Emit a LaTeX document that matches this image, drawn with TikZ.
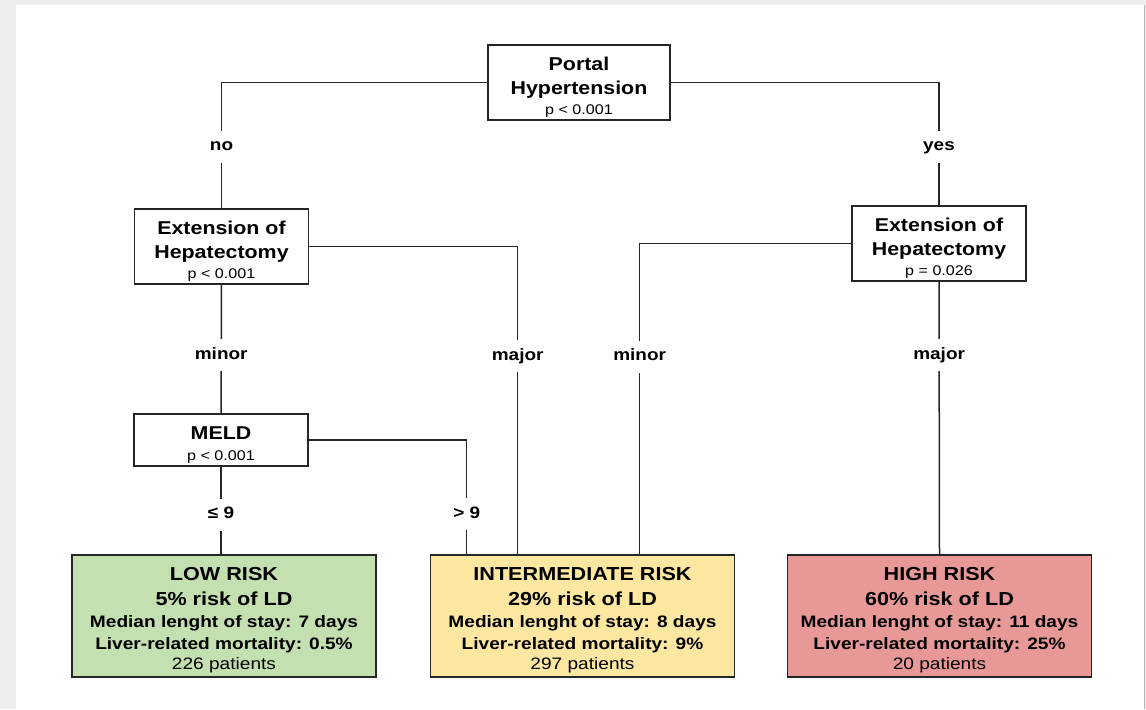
\documentclass[tikz,border=0pt]{standalone}
\usepackage{fontspec}
\setmainfont[FakeStretch=1.15]{Liberation Sans}
\usetikzlibrary{positioning, calc}

\definecolor{lowgreen}{RGB}{196,223,176}
\definecolor{midyellow}{RGB}{254,231,160}
\definecolor{highred}{RGB}{233,152,152}
\definecolor{pagegray}{RGB}{238,238,238}

\newcommand{\bigtxt}{\fontsize{18.6}{25}\selectfont\bfseries}
\newcommand{\ptxt}{\fontsize{14}{17}\selectfont\mdseries}
\newcommand{\leaftxt}{\fontsize{16.6}{22}\selectfont\bfseries}
\newcommand{\headtxt}{\fontsize{18.8}{24}\selectfont\bfseries}
\newcommand{\toppad}{\rule{0pt}{22pt}}

\begin{document}
\begin{tikzpicture}[
    x=1pt, y=-1pt,
    box/.style={draw=black!85, rectangle, line width=1.6pt, fill=white, align=center, inner sep=0pt},
    splitbox/.style={box, font=\bigtxt, minimum width=174pt, minimum height=75pt},
    leafbox/.style={box, font=\leaftxt, minimum width=304pt, minimum height=122pt},
    link/.style={draw=black!85, line width=1.5pt},
    lbl/.style={fill=white, font=\fontsize{16.5}{20}\selectfont\bfseries, text height=12pt, text depth=4pt, inner xsep=3pt, inner ysep=8pt}
]

% page and card
\fill[pagegray] (0,0) rectangle (1146,709);
\fill[white] (16,5) rectangle (1144,709);
\draw[black!30, line width=1pt] (1144.5,5) -- (1144.5,709);

% Level 1: root split
\node[splitbox, minimum width=182pt] (portal) at (579,82.5)
  {\toppad Portal\\[-1pt]Hypertension\\[-5pt]\ptxt p < 0.001};

% Level 2: extension splits
\node[splitbox] (extL) at (221.5,246.5)
  {\toppad Extension of\\[-1pt]Hepatectomy\\[-5pt]\ptxt p < 0.001};
\node[splitbox] (extR) at (939,243.5)
  {\toppad Extension of\\[-1pt]Hepatectomy\\[-5pt]\ptxt p = 0.026};

% Level 3: MELD split
\node[splitbox, minimum height=52pt] (meld) at (221,440)
  {\toppad MELD\\[-4pt]\ptxt p < 0.001};

% Level 4: risk groups
\node[leafbox, fill=lowgreen] (low) at (224,616)
  {\headtxt\toppad LOW RISK\\[3pt]
   \headtxt 5\% risk of LD\\
   Median lenght of stay: 7 days\\
   Liver-related mortality: 0.5\%\\[-2pt]
   \mdseries 226 patients};
\node[leafbox, fill=midyellow] (mid) at (582.5,616)
  {\headtxt\toppad INTERMEDIATE RISK\\[3pt]
   \headtxt 29\% risk of LD\\
   Median lenght of stay: 8 days\\
   Liver-related mortality: 9\%\\[-2pt]
   \mdseries 297 patients};
\node[leafbox, fill=highred] (high) at (939.5,616)
  {\headtxt\toppad HIGH RISK\\[3pt]
   \headtxt 60\% risk of LD\\
   Median lenght of stay: 11 days\\
   Liver-related mortality: 25\%\\[-2pt]
   \mdseries 20 patients};

% Connections
\draw[link] (portal.west) -| node[lbl, pos=0.756] {no} (extL.north);
\draw[link] (portal.east) -| node[lbl, pos=0.762] {yes} (extR.north);
\draw[link] (extL.south) -- node[lbl, pos=0.55] {minor} (meld.north);
\draw[link] (extL.east) -| node[lbl, pos=0.678] {major} ([xshift=88pt]mid.north west);
\draw[link] (extR.west) -| node[lbl, pos=0.682] {minor} ([xshift=210pt]mid.north west);
\draw[link] (extR.south) -- node[lbl, pos=0.27] {major} (high.north);
\draw[link] (meld.south) -- node[lbl, pos=0.55] {≤ 9} (meld.south |- low.north);
\draw[link] (meld.east) -| node[lbl, pos=0.826] {> 9} ([xshift=37pt]mid.north west);

\end{tikzpicture}
\end{document}
